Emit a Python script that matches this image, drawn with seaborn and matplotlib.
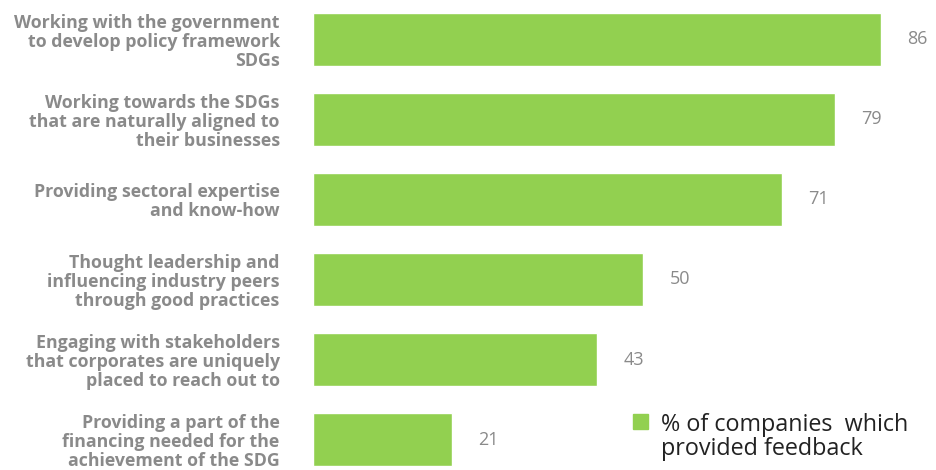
import matplotlib
matplotlib.use("Agg")
import matplotlib.pyplot as plt
import seaborn as sns
import pandas as pd
from matplotlib.patches import Rectangle

# -----------------------------
# Data
categories = [
    "Working with the government\nto develop policy framework\nSDGs",
    "Working towards the SDGs\nthat are naturally aligned to\ntheir businesses",
    "Providing sectoral expertise\nand know-how",
    "Thought leadership and\ninfluencing industry peers\nthrough good practices",
    "Engaging with stakeholders\nthat corporates are uniquely\nplaced to reach out to",
    "Providing a part of the\nfinancing needed for the\nachievement of the SDG",
]
values = [86, 79, 71, 50, 43, 21]
legend_label = "% of companies  which\nprovided feedback"

df = pd.DataFrame({"category": categories, "value": values})

# -----------------------------
# Style
sns.set_style("white")
plt.rcParams["font.family"] = ["Open Sans", "DejaVu Sans"]
green = "#92D050"
gray = "#8A8A8A"

fig = plt.figure(figsize=(9.37, 4.70), dpi=100)
ax = fig.add_axes([313 / 937, 0, 624 / 937, 1])

sns.barplot(data=df, x="value", y="category", color=green, width=0.66,
            saturation=1, ax=ax)

ax.set_xlim(0, 94.5)
ax.set_ylim(5.38, -0.49)
ax.set_xlabel("")
ax.set_ylabel("")
ax.set_xticks([])
sns.despine(ax=ax, left=True, bottom=True)
ax.tick_params(axis="y", length=0, pad=24)
for lbl in ax.get_yticklabels():
    lbl.set_fontweight("bold")
    lbl.set_color(gray)
    lbl.set_fontsize(12.8)
    lbl.set_linespacing(1.08)
    lbl.set_horizontalalignment("right")

# Value labels
for i, v in enumerate(values):
    ax.text(v + 4, i, str(v), va="center", ha="left", color=gray, fontsize=13)

# -----------------------------
# Legend (manual)
fig.patches.append(Rectangle((633 / 937, 1 - 429 / 470), 15 / 937, 15 / 470,
                             transform=fig.transFigure, color=green))
fig.text(661 / 937, 1 - 413 / 470, legend_label, ha="left", va="top",
         fontsize=16.8, color="#222222", linespacing=1.02)

fig.savefig("out.png", dpi=100)
